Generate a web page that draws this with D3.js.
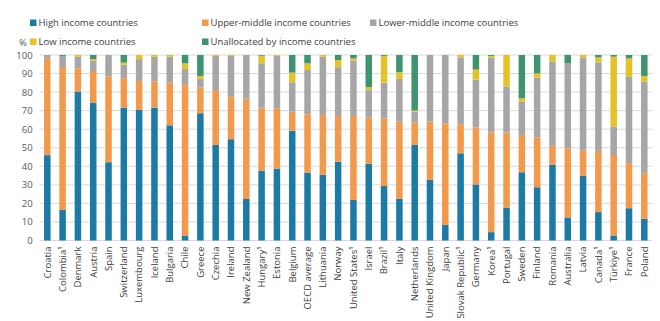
<!DOCTYPE html>
<html>
<head>
<meta charset="utf-8">
<script src="https://cdn.jsdelivr.net/npm/d3@7"></script>
<style>
  body { margin: 0; background: #fff; }
  text { font-family: "Open Sans", "Noto Sans", sans-serif; }
</style>
</head>
<body>
<div id="chart"></div>
<script>
// Categories (countries), in display order
const countries = ["Croatia", "Colombia¹", "Denmark", "Austria", "Spain", "Switzerland", "Luxembourg", "Iceland",
  "Bulgaria", "Chile", "Greece", "Czechia", "Ireland", "New Zealand", "Hungary¹", "Estonia", "Belgium",
  "OECD average", "Lithuania", "Norway", "United States¹", "Israel", "Brazil¹", "Italy", "Netherlands",
  "United Kingdom", "Japan", "Slovak Republic¹", "Germany", "Korea¹", "Portugal", "Sweden", "Finland",
  "Romania", "Australia", "Latvia", "Canada¹", "Türkiye¹", "France", "Poland"];

// Series values (% share)
const highIncome = [46, 16.5, 80.3, 74.4, 42.2, 71.5, 70.4, 71.6, 62.1, 2.5, 68.6, 51.5, 54.6, 22.4, 37.7, 38.8, 59.2,
  36.6, 35.4, 42.5, 21.9, 41.3, 29.4, 22.6, 51.5, 32.7, 8.4, 47, 30.2, 4.5, 17.8, 36.8, 28.7, 40.8, 12.4, 35, 15.3, 2.7, 17.4, 11.7];
const upperMiddle = [52, 77, 12.5, 17, 46.3, 16, 15.6, 14.2, 23, 81.2, 14, 29.6, 23.2, 54.2, 33.9, 32.5, 10.3,
  31.4, 32.3, 24.6, 45.2, 25.1, 36.5, 41.5, 12.1, 31.4, 54.8, 15.7, 30.8, 53.7, 40.4, 20.1, 26.8, 10.2, 37.3, 13.5, 33, 43.4, 24.3, 24.6];
const lowerMiddle = [2, 6, 6.3, 5.6, 11.5, 7.2, 11.8, 13.3, 14, 8.8, 4.5, 18.4, 21.7, 23.4, 24, 28.2, 15.8,
  23.9, 31.4, 26.3, 29.9, 14.7, 19.2, 23, 5.9, 35.9, 36.8, 36, 25.7, 40.3, 24.7, 18, 32.3, 45.4, 45.8, 50.2, 47.7, 15.3, 46.6, 49.3];
const lowIncome = [0, 0, 0.9, 0.8, 0, 1.2, 2.2, 0.9, 0.9, 3, 1.6, 0.5, 0.5, 0, 4, 0.5, 5.2,
  3.6, 0.9, 3.9, 1.2, 1.5, 14.4, 3.6, 0.6, 0, 0, 1.3, 5.5, 1, 17.1, 1.8, 2.3, 3.6, 0, 1.3, 2.7, 37.7, 9.9, 3.1];
const unallocated = [0, 0.5, 0, 2.2, 0, 4.1, 0, 0, 0, 4.5, 11.3, 0, 0, 0, 0.4, 0, 9.5,
  4.5, 0, 2.7, 1.8, 17.4, 0.5, 9.3, 29.9, 0, 0, 0, 7.8, 0.5, 0, 23.3, 9.9, 0, 4.5, 0, 1.3, 0.9, 1.8, 11.3];

const seriesNames = ["High income countries", "Upper-middle income countries", "Lower-middle income countries",
  "Low income countries", "Unallocated by income countries"];
const yTicks = [0, 10, 20, 30, 40, 50, 60, 70, 80, 90, 100];

const colors = ["#1c7aa5", "#f3994c", "#a6a6a6", "#e6c229", "#3f9470"];

const width = 660, height = 321;
const margin = { top: 55, right: 8, bottom: 80.5, left: 39.6 };

const svg = d3.select("#chart").append("svg")
  .attr("width", width)
  .attr("height", height);

// build rows for the stack
const keys = ["high", "upper", "lower", "low", "unalloc"];
const rows = countries.map((c, i) => ({
  country: c, high: highIncome[i], upper: upperMiddle[i], lower: lowerMiddle[i],
  low: lowIncome[i], unalloc: unallocated[i]
}));
const stacked = d3.stack().keys(keys)(rows);

const x = d3.scaleBand()
  .domain(countries)
  .range([margin.left, width - margin.right])
  .paddingInner(0.575)
  .paddingOuter(0.29);

const y = d3.scaleLinear()
  .domain([0, 100])
  .range([height - margin.bottom, margin.top]);

// gridlines
svg.append("g")
  .selectAll("line")
  .data(yTicks)
  .join("line")
  .attr("x1", margin.left)
  .attr("x2", width - margin.right)
  .attr("y1", d => y(d))
  .attr("y2", d => y(d))
  .attr("stroke", "#dadada")
  .attr("stroke-width", 1);

// y axis labels
const yAxis = d3.axisLeft(y).tickValues(yTicks).tickSize(0).tickPadding(7);
svg.append("g")
  .attr("transform", `translate(${margin.left}, 0)`)
  .call(yAxis)
  .call(g => g.select(".domain").remove())
  .call(g => g.selectAll("text")
    .attr("fill", "#595959")
    .style("font-size", "9.5px")
    .style("font-family", "'Open Sans', sans-serif"));

// bars
svg.append("g")
  .selectAll("g")
  .data(stacked)
  .join("g")
  .attr("fill", (d, i) => colors[i])
  .selectAll("rect")
  .data(d => d)
  .join("rect")
  .attr("x", d => x(d.data.country))
  .attr("y", d => y(d[1]))
  .attr("height", d => Math.max(0, y(d[0]) - y(d[1])))
  .attr("width", x.bandwidth());

// x axis labels (rotated)
const xAxis = d3.axisBottom(x).tickSize(0).tickPadding(0);
svg.append("g")
  .attr("transform", `translate(0, ${height - margin.bottom})`)
  .call(xAxis)
  .call(g => g.select(".domain").remove())
  .call(g => g.selectAll("text")
    .attr("transform", "rotate(-90)")
    .attr("text-anchor", "end")
    .attr("x", -6)
    .attr("y", 0)
    .attr("dy", "0.35em")
    .attr("fill", "#404040")
    .style("font-size", "9.5px")
    .style("font-family", "'Open Sans', sans-serif"));

// "%" unit label
svg.append("text")
  .attr("x", 19)
  .attr("y", 46)
  .attr("fill", "#595959")
  .style("font-size", "9.5px")
  .text("%");

// legend
const legendPos = [[30, 23], [202, 23], [370, 23], [30, 42], [202, 42]];
const legend = svg.append("g")
  .selectAll("g")
  .data(seriesNames)
  .join("g")
  .attr("transform", (d, i) => `translate(${legendPos[i][0]}, ${legendPos[i][1]})`);
legend.append("rect")
  .attr("x", 0)
  .attr("y", -3.5)
  .attr("width", 6.5)
  .attr("height", 6.5)
  .attr("fill", (d, i) => colors[i]);
legend.append("text")
  .attr("x", 8.5)
  .attr("y", 0)
  .attr("dy", "0.35em")
  .attr("fill", "#404040")
  .style("font-size", "9.5px")
  .text(d => d);
</script>
</body>
</html>
